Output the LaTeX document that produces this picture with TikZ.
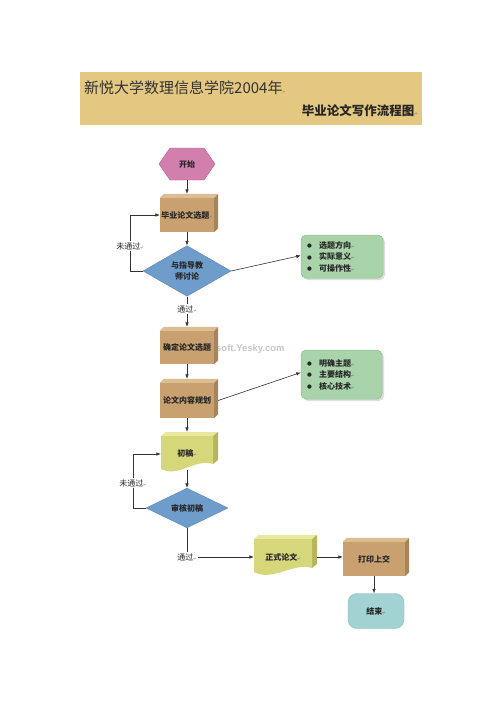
\documentclass[tikz,border=0pt]{standalone}
\usepackage{fontspec}
\setmainfont{Noto Sans CJK SC}
\newfontfamily\symfont{DejaVu Sans}
\newfontfamily\wmfont{Liberation Sans}
\usetikzlibrary{shapes.geometric,arrows.meta,calc,shadows}
\definecolor{hdr}{HTML}{E4C881}
\definecolor{cubefront}{HTML}{C9A06F}
\definecolor{cubetopc}{HTML}{DDBE93}
\definecolor{cubesidec}{HTML}{A8845B}
\definecolor{hexfill}{HTML}{D37FAE}
\definecolor{hexedge}{HTML}{B2628F}
\definecolor{dia}{HTML}{6F9DCB}
\definecolor{diaedge}{HTML}{5A86B3}
\definecolor{grn}{HTML}{A9D4A9}
\definecolor{grnedge}{HTML}{93BE93}
\definecolor{docc}{HTML}{D6D67A}
\definecolor{doctop}{HTML}{E8E8A0}
\definecolor{docside}{HTML}{B5B55E}
\definecolor{endc}{HTML}{A2D2D2}
\definecolor{endedge}{HTML}{86B8B8}
\definecolor{linec}{HTML}{333333}
\newcommand\rmk{{\symfont\fontsize{4}{4}\selectfont\color{gray}↵}}
\newcommand\bul{{\symfont\fontsize{5.5}{5.5}\selectfont\raisebox{0.6pt}{●}}}
\newcommand\cubeext[1]{%
  \fill[cubetopc] (#1.north west) -- ++(4,-4) -- ([shift={(4,-4)}]#1.north east) -- (#1.north east) -- cycle;
  \fill[cubesidec] (#1.north east) -- ++(4,-4) -- ([shift={(4,-4)}]#1.south east) -- (#1.south east) -- cycle;}
\tikzset{
  line/.style={draw=linec, line width=0.6pt},
  arr/.style={line, -{Latex[length=4.5pt,width=3.5pt]}},
  cubebox/.style={rectangle, fill=cubefront, inner sep=0pt, minimum width=54pt,
    minimum height=34pt, font=\bfseries\fontsize{8}{9}\selectfont, text=black!85},
  diabox/.style={diamond, fill=dia, draw=diaedge, line width=0.4pt, inner sep=0pt,
    align=center, font=\bfseries\fontsize{8}{11}\selectfont, text=black!85},
  grnbox/.style={rectangle, rounded corners=5pt, fill=grn, draw=grnedge, line width=0.5pt,
    drop shadow={shadow xshift=2pt, shadow yshift=-2pt, fill=black!25}},
  itemtxt/.style={align=left, inner sep=0pt, font=\bfseries\fontsize{8}{11.5}\selectfont, text=black!85},
  lbl/.style={fill=white, inner sep=1pt, font=\fontsize{8}{9}\selectfont, text=black!85},
  plain/.style={inner sep=0pt, font=\bfseries\fontsize{8}{9}\selectfont, text=black!85},
}
\begin{document}
\begin{tikzpicture}[x=1pt,y=-1pt]
\useasboundingbox (0,0) rectangle (500,707);
\fill[white] (0,0) rectangle (500,707);
% header
\fill[hdr] (80,72) rectangle (422,125);
\node[anchor=west, inner sep=0pt, font=\fontsize{15}{16}\selectfont, text=black!80] (title) at (84,88) {新悦大学数理信息学院2004年\rmk};
\node[anchor=east, inner sep=0pt, font=\bfseries\fontsize{12.5}{14}\selectfont, text=black!85] (subtitle) at (418,111) {毕业论文写作流程图\rmk};

% watermark
\node[anchor=west, inner sep=0pt, font=\wmfont\bfseries\fontsize{9.5}{10}\selectfont, text=black!22] (wm) at (216,349) {soft.Yesky.com};

% start hexagon
\filldraw[fill=hexfill, draw=hexedge, line width=0.4pt] (159,164) -- (170,148) -- (204,148) -- (215,164) -- (204,180) -- (170,180) -- cycle;
\node[plain] (start) at (187,164) {开始};
\path (187,148) coordinate (starttop) (187,180) coordinate (startbot);

% cubes
\node[cubebox] (sel) at (187,215) {毕业论文选题\rmk};
\cubeext{sel}
\node[cubebox, minimum height=33pt] (confirm) at (187,347.5) {确定论文选题};
\cubeext{confirm}
\node[cubebox, minimum height=35pt] (plan) at (187,400.5) {论文内容规划};
\cubeext{plan}
\node[cubebox, minimum width=62pt] (print) at (374,559) {打印上交};
\cubeext{print}

% diamonds
\node[diabox, minimum width=88pt, minimum height=46pt] (d1) at (187,271) {与指导教\\师讨论};
\node[diabox, minimum width=82pt, minimum height=38pt] (d2) at (187,508) {审核初稿};

% green boxes
\node[grnbox, minimum width=82pt, minimum height=43pt] (g1) at (342,256.5) {};
\node[itemtxt, anchor=west] (g1t) at (307,256.5) {\bul\hspace{7pt}选题方向\rmk\\\bul\hspace{7pt}实际意义\rmk\\\bul\hspace{7pt}可操作性\rmk};
\node[grnbox, minimum width=81pt, minimum height=49pt] (g2) at (341.5,374.5) {};
\node[itemtxt, anchor=west] (g2t) at (307,374.5) {\bul\hspace{7pt}明确主题\rmk\\\bul\hspace{7pt}主要结构\rmk\\\bul\hspace{7pt}核心技术\rmk};

% document shapes
\fill[doctop] (161,436) -- (165,432) -- (218,432) -- (213,436) -- cycle;
\fill[docside] (213,436) -- (218,432) -- (218,460) -- (213,464) -- cycle;
\fill[docc] (161,436) -- (213,436) -- (213,464) .. controls (196,458) and (178,478) .. (161,469) -- cycle;
\node[plain, minimum width=52pt, minimum height=34pt] (draft) at (187,453) {初稿\rmk};

\fill[doctop] (254,539) -- (258,535) -- (317,535) -- (312,539) -- cycle;
\fill[docside] (312,539) -- (317,535) -- (317,564) -- (312,568) -- cycle;
\fill[docc] (254,539) -- (312,539) -- (312,568) .. controls (294,562) and (272,582) .. (254,572) -- cycle;
\node[plain, minimum width=58pt, minimum height=36pt] (formal) at (283,557) {正式论文\rmk};

% end
\node[plain, fill=endc, draw=endedge, line width=0.4pt, rounded corners=9pt, minimum width=56pt, minimum height=35pt] (end) at (376,611) {结束\rmk};

% labels
\node[lbl] (pass1) at (187,309) {通过\rmk};
\node[lbl] (fail1) at (130,246) {未通过\rmk};
\node[lbl] (fail2) at (133,483) {未通过\rmk};
\node[lbl] (pass2) at (187,557) {通过\rmk};

% connectors
\draw[arr] (startbot) -- ([yshift=4pt]sel.north);
\draw[arr] (sel.south) -- (d1.north);
\draw[line] (d1.south) -- (pass1.north);
\draw[arr] (pass1.south) -- ([yshift=4pt]confirm.north);
\draw[arr] (confirm.south) -- ([yshift=4pt]plan.north);
\draw[arr] (plan.south) -- ([yshift=4pt]draft.north);
\draw[arr] (draft.south) -- (d2.north);
\draw[line] (d2.south) -- (pass2.north);
\draw[arr] (pass2.east) -- (formal.west);
\draw[arr] ([xshift=5pt]formal.east) -- (formal.east -| print.west);
\draw[arr] (print.south) -- (print.south |- end.north);
\draw[line] (d1.west) -| (fail1.south);
\draw[arr] (fail1.north) |- (sel.west);
\draw[line] (d2.west) -| (fail2.south);
\draw[arr] (fail2.north) |- ([yshift=-1pt]draft.west);
\draw[arr] (d1.east) -- ([yshift=1pt]g1.west);
\draw[arr] ([xshift=4pt]plan.east) -- ([yshift=2pt]g2.west);
\end{tikzpicture}
\end{document}
